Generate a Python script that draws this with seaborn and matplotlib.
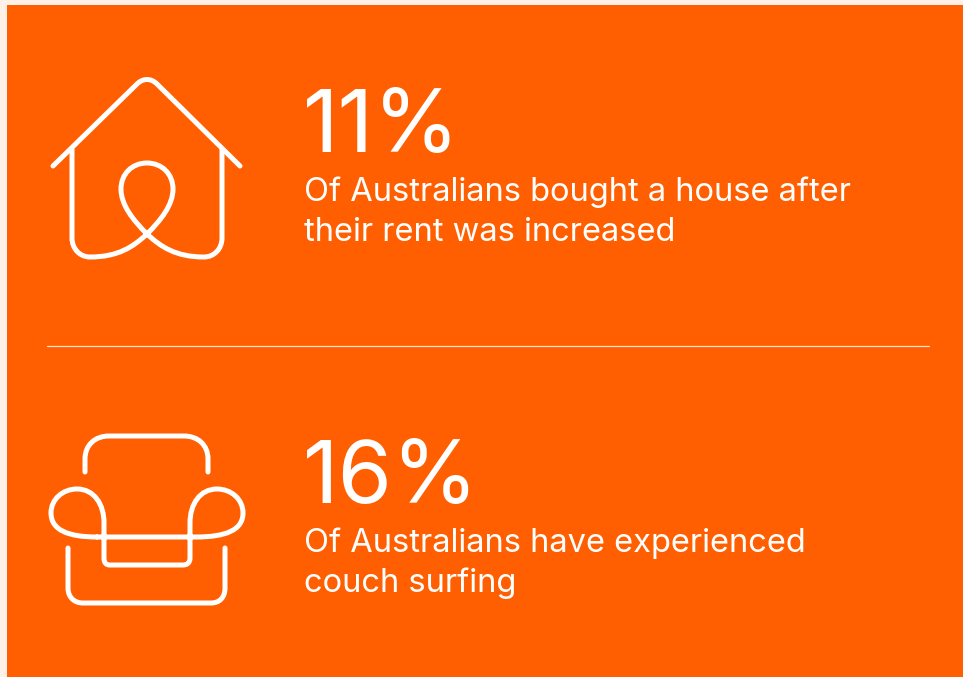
import numpy as np
import seaborn as sns
import matplotlib
matplotlib.use("Agg")
import matplotlib.pyplot as plt
from matplotlib.path import Path
from matplotlib.patches import PathPatch

stat_values = [11, 16]
caption_lines = [
    ["Of Australians bought a house after", "their rent was increased"],
    ["Of Australians have experienced", "couch surfing"],
]
stat_baselines = [152, 503]
caption_baselines = [[201, 241], [552, 592]]

orange = "#FF5F00"
edge = "#FFF0E8"

sns.set_theme(style="white")
plt.rcParams['font.family'] = ['Inter', 'DejaVu Sans']

fig = plt.figure(figsize=(9.63, 6.77), dpi=100, facecolor=edge)
ax = fig.add_axes([0, 0, 1, 1])
ax.set_xlim(0, 963)
ax.set_ylim(677, 0)
ax.axis("off")

# orange panel
ax.add_patch(plt.Rectangle((7, 5), 956, 672, color=orange, lw=0))

M, L, C = Path.MOVETO, Path.LINETO, Path.CURVE4


def draw_icon(steps):
    # steps are (code, points) in pixel coordinates
    verts, codes = [], []
    for code, pts in steps:
        verts.extend(pts)
        codes.extend([code] * len(pts))
    ax.add_patch(PathPatch(Path(verts, codes), fc="none", ec="white", lw=3.6,
                           capstyle="round", joinstyle="round"))


# house roof
draw_icon([
    (M, [(53, 166)]),
    (L, [(137, 84)]),
    (C, [(143, 78), (151, 78), (157, 84)]),
    (L, [(240, 166)]),
])
# house walls and loop
draw_icon([
    (M, [(72, 149)]),
    (L, [(72, 238)]),
    (C, [(72, 249), (80, 257), (90, 257)]),
    (C, [(118, 257), (133, 247), (147, 234)]),
    (C, [(161, 220), (173, 205), (173, 189)]),
    (C, [(173, 174), (162, 163), (147, 163)]),
    (C, [(132, 163), (121, 174), (121, 189)]),
    (C, [(121, 205), (133, 220), (147, 234)]),
    (C, [(161, 247), (176, 257), (204, 257)]),
    (C, [(214, 257), (222, 249), (222, 238)]),
    (L, [(222, 149)]),
])
# chair back
draw_icon([
    (M, [(85, 472)]),
    (L, [(85, 459)]),
    (C, [(85, 445), (95, 436), (109, 436)]),
    (L, [(184, 436)]),
    (C, [(198, 436), (208, 445), (208, 459)]),
    (L, [(208, 472)]),
])
# chair arms and seat
draw_icon([
    (M, [(97, 537)]),
    (L, [(196, 537)]),
    (C, [(226, 537), (243, 530), (243, 513)]),
    (C, [(243, 499), (231, 489), (217, 489)]),
    (C, [(200, 489), (190, 504), (190, 523)]),
    (L, [(190, 558)]),
    (C, [(190, 563), (187, 565), (183, 565)]),
    (L, [(110, 565)]),
    (C, [(106, 565), (104, 563), (104, 558)]),
    (L, [(104, 523)]),
    (C, [(104, 504), (94, 489), (77, 489)]),
    (C, [(63, 489), (51, 499), (51, 513)]),
    (C, [(51, 530), (68, 537), (97, 537)]),
])
# chair base
draw_icon([
    (M, [(68, 548)]),
    (L, [(68, 588)]),
    (C, [(68, 597), (74, 603), (83, 603)]),
    (L, [(211, 603)]),
    (C, [(220, 603), (225, 597), (225, 588)]),
    (L, [(225, 548)]),
])

# divider
sns.lineplot(x=[47, 929], y=[346, 346], color="#FFE3D2", lw=0.9, ax=ax)

for value, base, lines, line_bases in zip(stat_values, stat_baselines, caption_lines, caption_baselines):
    ax.text(303, base, f"{value}%", color="white", fontsize=63, weight=400, va="baseline", ha="left")
    for line, y in zip(lines, line_bases):
        ax.text(304, y, line, color="white", fontsize=23.5, weight=400, va="baseline", ha="left")

fig.savefig("out.png", dpi=100, facecolor=edge)
